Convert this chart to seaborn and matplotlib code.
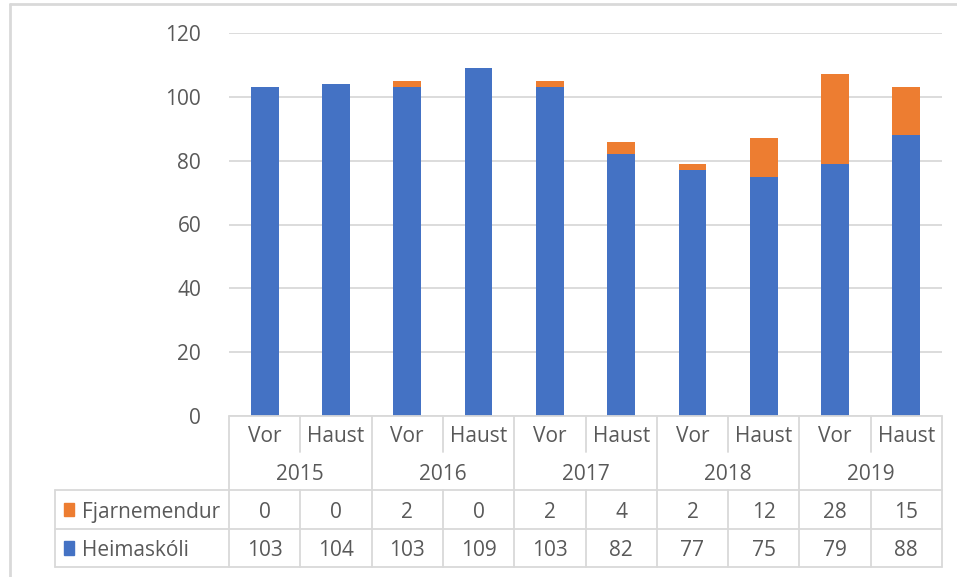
import pandas as pd
import seaborn as sns
import matplotlib.pyplot as plt
from matplotlib.lines import Line2D
from matplotlib.patches import Rectangle

# Data
years = ['2015', '2016', '2017', '2018', '2019']
terms = ['Vor', 'Haust']
fjarnemendur = [0, 0, 2, 0, 2, 4, 2, 12, 28, 15]
heimaskoli = [103, 104, 103, 109, 103, 82, 77, 75, 79, 88]
yticks = [0, 20, 40, 60, 80, 100, 120]

blue = '#4472c4'
orange = '#ed7d31'
grey = '#d9d9d9'
txt = '#595959'

sns.set_theme(style='white')
plt.rcParams['font.family'] = ['Open Sans', 'DejaVu Sans']

labels = [y + ' ' + t for y in years for t in terms]
df = pd.DataFrame({'cat': labels, 'heima': heimaskoli,
                   'total': [a + b for a, b in zip(heimaskoli, fjarnemendur)]})

fig = plt.figure(figsize=(9.57, 5.77), dpi=100)
ax = fig.add_axes([229 / 957, 1 - 416 / 577, (942 - 229) / 957, (416 - 33) / 577])

# stacked: draw total first (orange), then blue on top
sns.barplot(data=df, x='cat', y='total', color=orange, width=0.39, ax=ax,
            saturation=1, linewidth=0)
sns.barplot(data=df, x='cat', y='heima', color=blue, width=0.39, ax=ax,
            saturation=1, linewidth=0)

fs = 15
ax.set_ylim(0, 120)
ax.set_xlim(-0.5, 9.5)
ax.set_yticks(yticks)
ax.set_yticklabels([str(v) for v in yticks], fontsize=fs, color=txt)
ax.tick_params(axis='y', length=0, pad=20)
ax.set_xticks([])
ax.set_xlabel('')
ax.set_ylabel('')
ax.yaxis.grid(True, color=grey, linewidth=1.3)
ax.set_axisbelow(True)
for s in ax.spines.values():
    s.set_visible(False)

# data table under the axes
tr = ax.get_xaxis_transform()
h = 416 - 33
def yf(py):
    return (416 - py) / h

r1, r2, r3, r4 = yf(452), yf(490), yf(529), yf(567)
off = 3 / h  # text sits a little low in its cell
left = (55 - 229) / 71.3 - 0.5
lw = 1.3

def hline(x0, x1, y):
    ax.add_line(Line2D([x0, x1], [y, y], transform=tr, color=grey, lw=lw, clip_on=False))

def vline(x, y0, y1):
    ax.add_line(Line2D([x, x], [y0, y1], transform=tr, color=grey, lw=lw, clip_on=False))

hline(-0.5, 9.5, 0)
hline(left, 9.5, r2)
hline(left, 9.5, r3)
hline(left, 9.5, r4)
for i in range(11):
    x = i - 0.5
    if i % 2 == 0:
        vline(x, 0, r4)
    else:
        vline(x, 0, r1)
        vline(x, r2, r4)
vline(left, r2, r4)

for i, lab in enumerate(labels):
    ax.text(i, (0 + r1) / 2 - off, terms[i % 2], transform=tr, ha='center',
            va='center', fontsize=fs, color=txt)
    ax.text(i, (r2 + r3) / 2 - off, str(fjarnemendur[i]), transform=tr, ha='center',
            va='center', fontsize=fs, color=txt)
    ax.text(i, (r3 + r4) / 2 - off, str(heimaskoli[i]), transform=tr, ha='center',
            va='center', fontsize=fs, color=txt)
for j, yr in enumerate(years):
    ax.text(2 * j + 0.5, (r1 + r2) / 2 - off, yr, transform=tr, ha='center',
            va='center', fontsize=fs, color=txt)

for row, name, col in [((r2 + r3) / 2, 'Fjarnemendur', orange),
                       ((r3 + r4) / 2, 'Heimaskóli', blue)]:
    ax.add_patch(Rectangle((left + 0.12, row - 0.018), 0.15, 0.036, transform=tr,
                           color=col, clip_on=False))
    ax.text(left + 0.38, row - off, name, transform=tr, ha='left', va='center',
            fontsize=fs, color=txt)

# outer chart frame (partially visible)
fig.add_artist(Line2D([10 / 957, 1], [1 - 4 / 577, 1 - 4 / 577], color=grey, lw=2))
fig.add_artist(Line2D([10 / 957, 10 / 957], [0, 1 - 4 / 577], color=grey, lw=2))

fig.savefig('out.png', dpi=100)
